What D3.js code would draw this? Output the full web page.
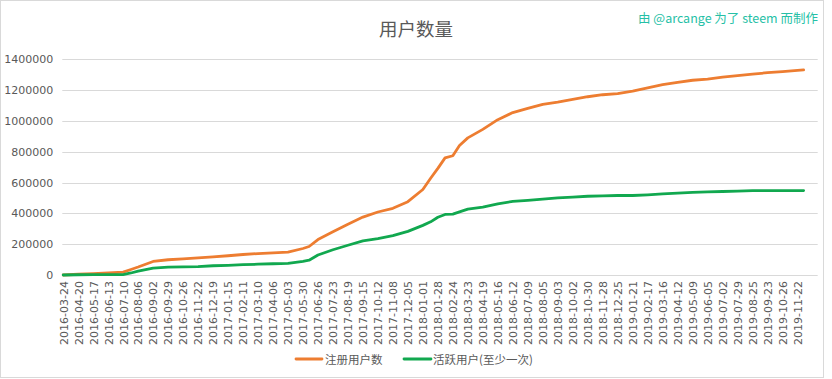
<!DOCTYPE html>
<html><head><meta charset="utf-8">
<script src="https://cdn.jsdelivr.net/npm/d3@7"></script>
<style>
html,body{margin:0;padding:0;background:#fff;}
svg{display:block;font-family:"Microsoft YaHei","Noto Sans CJK SC","DejaVu Sans",sans-serif;}
</style></head>
<body>
<svg id="chart" width="832" height="379"></svg>
<script>
// Tick labels (every 27th category on the original category axis)
const tickLabels = ["2016-03-24","2016-04-20","2016-05-17","2016-06-13","2016-07-10","2016-08-06","2016-09-02","2016-09-29","2016-10-26","2016-11-22","2016-12-19","2017-01-15","2017-02-11","2017-03-10","2017-04-06","2017-05-03","2017-05-30","2017-06-26","2017-07-23","2017-08-19","2017-09-15","2017-10-12","2017-11-08","2017-12-05","2018-01-01","2018-01-28","2018-02-24","2018-03-23","2018-04-19","2018-05-16","2018-06-12","2018-07-09","2018-08-05","2018-09-03","2018-10-02","2018-10-30","2018-11-28","2018-12-25","2019-01-21","2019-02-17","2019-03-16","2019-04-12","2019-05-09","2019-06-05","2019-07-02","2019-07-29","2019-08-25","2019-09-23","2019-10-26","2019-11-22"];
const lastDate = "2019-12-03";
const yTicks = [0,200000,400000,600000,800000,1000000,1200000,1400000];

const sampleDates = ["2016-03-24","2016-04-20","2016-05-17","2016-06-13","2016-07-10","2016-07-24","2016-08-06","2016-09-02","2016-09-29","2016-10-26","2016-11-22","2016-12-19","2017-01-15","2017-02-11","2017-03-10","2017-04-06","2017-05-03","2017-05-30","2017-06-10","2017-06-26","2017-07-23","2017-08-19","2017-09-15","2017-10-12","2017-11-08","2017-12-05","2018-01-01","2018-01-15","2018-01-28","2018-02-10","2018-02-24","2018-03-08","2018-03-23","2018-04-19","2018-05-16","2018-06-12","2018-07-09","2018-08-05","2018-09-03","2018-10-02","2018-10-30","2018-11-28","2018-12-25","2019-01-21","2019-02-17","2019-03-16","2019-04-12","2019-05-09","2019-06-05","2019-07-02","2019-07-29","2019-08-25","2019-09-23","2019-10-26","2019-11-22","2019-12-03"];
const registered = [0,5000,9000,13000,19000,36000,52000,88000,99000,105000,111000,117000,125000,133000,139000,144000,148000,172000,185000,230000,281000,330000,376000,409000,433000,476000,555000,628000,692000,760000,774000,840000,890000,945000,1008000,1054000,1082000,1108000,1122000,1140000,1157000,1170000,1177000,1194000,1215000,1235000,1250000,1264000,1271000,1284000,1294000,1304000,1313000,1320000,1328000,1331000];
const active = [0,1500,2000,2500,3000,13000,25000,45000,51000,53000,55000,60000,63000,67000,70000,73000,76000,89000,96000,130000,164000,193000,222000,236000,255000,283000,322000,345000,375000,393000,395000,410000,428000,440000,462000,478000,484000,492000,500000,506000,511000,513000,516000,516000,520000,526000,531000,536000,540000,542000,545000,547000,547000,547000,547000,548000];

const seriesNames = ["注册用户数","活跃用户(至少一次)"];
const colors = ["#ed7d31","#11a84f"];

const svg = d3.select("#chart");
const plot = {left: 62.3, right: 817.7, top: 59.3, bottom: 275};

svg.append("rect").attr("x",0.5).attr("y",0.5).attr("width",823).attr("height",377)
  .attr("fill","#fff").attr("stroke","#d9d9d9");

const parse = d3.timeParse("%Y-%m-%d");
// Piecewise time scale: each labelled category is evenly spaced on the axis
const step = (plot.right - plot.left) / (1323/27 + 1 + 11/27);
const firstX = plot.left + step*0.06;
const tickDates = tickLabels.map(parse);
const x = d3.scaleTime()
  .domain(tickDates.concat([parse(lastDate)]))
  .range(tickDates.map((d,i)=>firstX + i*step).concat([firstX + 49*step + step*11/27]));

const y = d3.scaleLinear().domain([0,1400000]).range([plot.bottom, plot.top]);

// gridlines
svg.append("g").selectAll("line").data(yTicks).join("line")
  .attr("x1",plot.left).attr("x2",plot.right)
  .attr("y1",d=>Math.round(y(d))+0.5).attr("y2",d=>Math.round(y(d))+0.5)
  .attr("stroke","#d9d9d9").attr("stroke-width",1);

// y axis labels
const yAxis = d3.axisLeft(y).tickValues(yTicks).tickSize(0).tickPadding(9).tickFormat(d3.format("d"));
const gy = svg.append("g").attr("transform",`translate(${plot.left},0)`).call(yAxis);
gy.select(".domain").remove();
gy.selectAll("text").attr("fill","#595959").style("font-size","11px")
  .style("font-family","'Microsoft YaHei','DejaVu Sans',sans-serif");

// x axis
const xAxis = d3.axisBottom(x).tickValues(tickDates).tickSize(0).tickFormat(d3.timeFormat("%Y-%m-%d"));
const gx = svg.append("g").attr("transform",`translate(0,${plot.bottom})`).call(xAxis);
gx.select(".domain").remove();
gx.selectAll("text")
  .attr("transform","rotate(-90)")
  .attr("x",-6).attr("y",0).attr("dy","0.35em")
  .attr("text-anchor","end")
  .attr("fill","#595959").style("font-size","11px")
  .style("font-family","'Microsoft YaHei','DejaVu Sans',sans-serif");

// lines
const pts = sampleDates.map(parse);
const line = d3.line().x(d=>x(d[0])).y(d=>y(d[1]));
[registered, active].forEach((vals,k)=>{
  svg.append("path")
    .datum(pts.map((d,i)=>[d,vals[i]]))
    .attr("fill","none").attr("stroke",colors[k]).attr("stroke-width",2.8)
    .attr("stroke-linejoin","round").attr("stroke-linecap","round")
    .attr("d",line);
});

// title
svg.append("text").attr("x",416).attr("y",36).attr("text-anchor","middle")
  .attr("fill","#595959").style("font-size","18.5px").text("用户数量");

// credit
svg.append("text").attr("x",818).attr("y",23).attr("text-anchor","end")
  .attr("fill","#26bfa6").style("font-size","12.5px").text("由 @arcange 为了 steem 而制作");

// legend
const legend = [{x1:296,x2:322,tx:325},{x1:404,x2:431,tx:433}];
legend.forEach((l,k)=>{
  svg.append("line").attr("x1",l.x1).attr("x2",l.x2).attr("y1",359).attr("y2",359)
    .attr("stroke",colors[k]).attr("stroke-width",2.8).attr("stroke-linecap","round");
  svg.append("text").attr("x",l.tx).attr("y",363.5).attr("fill","#595959")
    .style("font-size","11.5px").text(seriesNames[k]);
});
</script>
</body></html>
